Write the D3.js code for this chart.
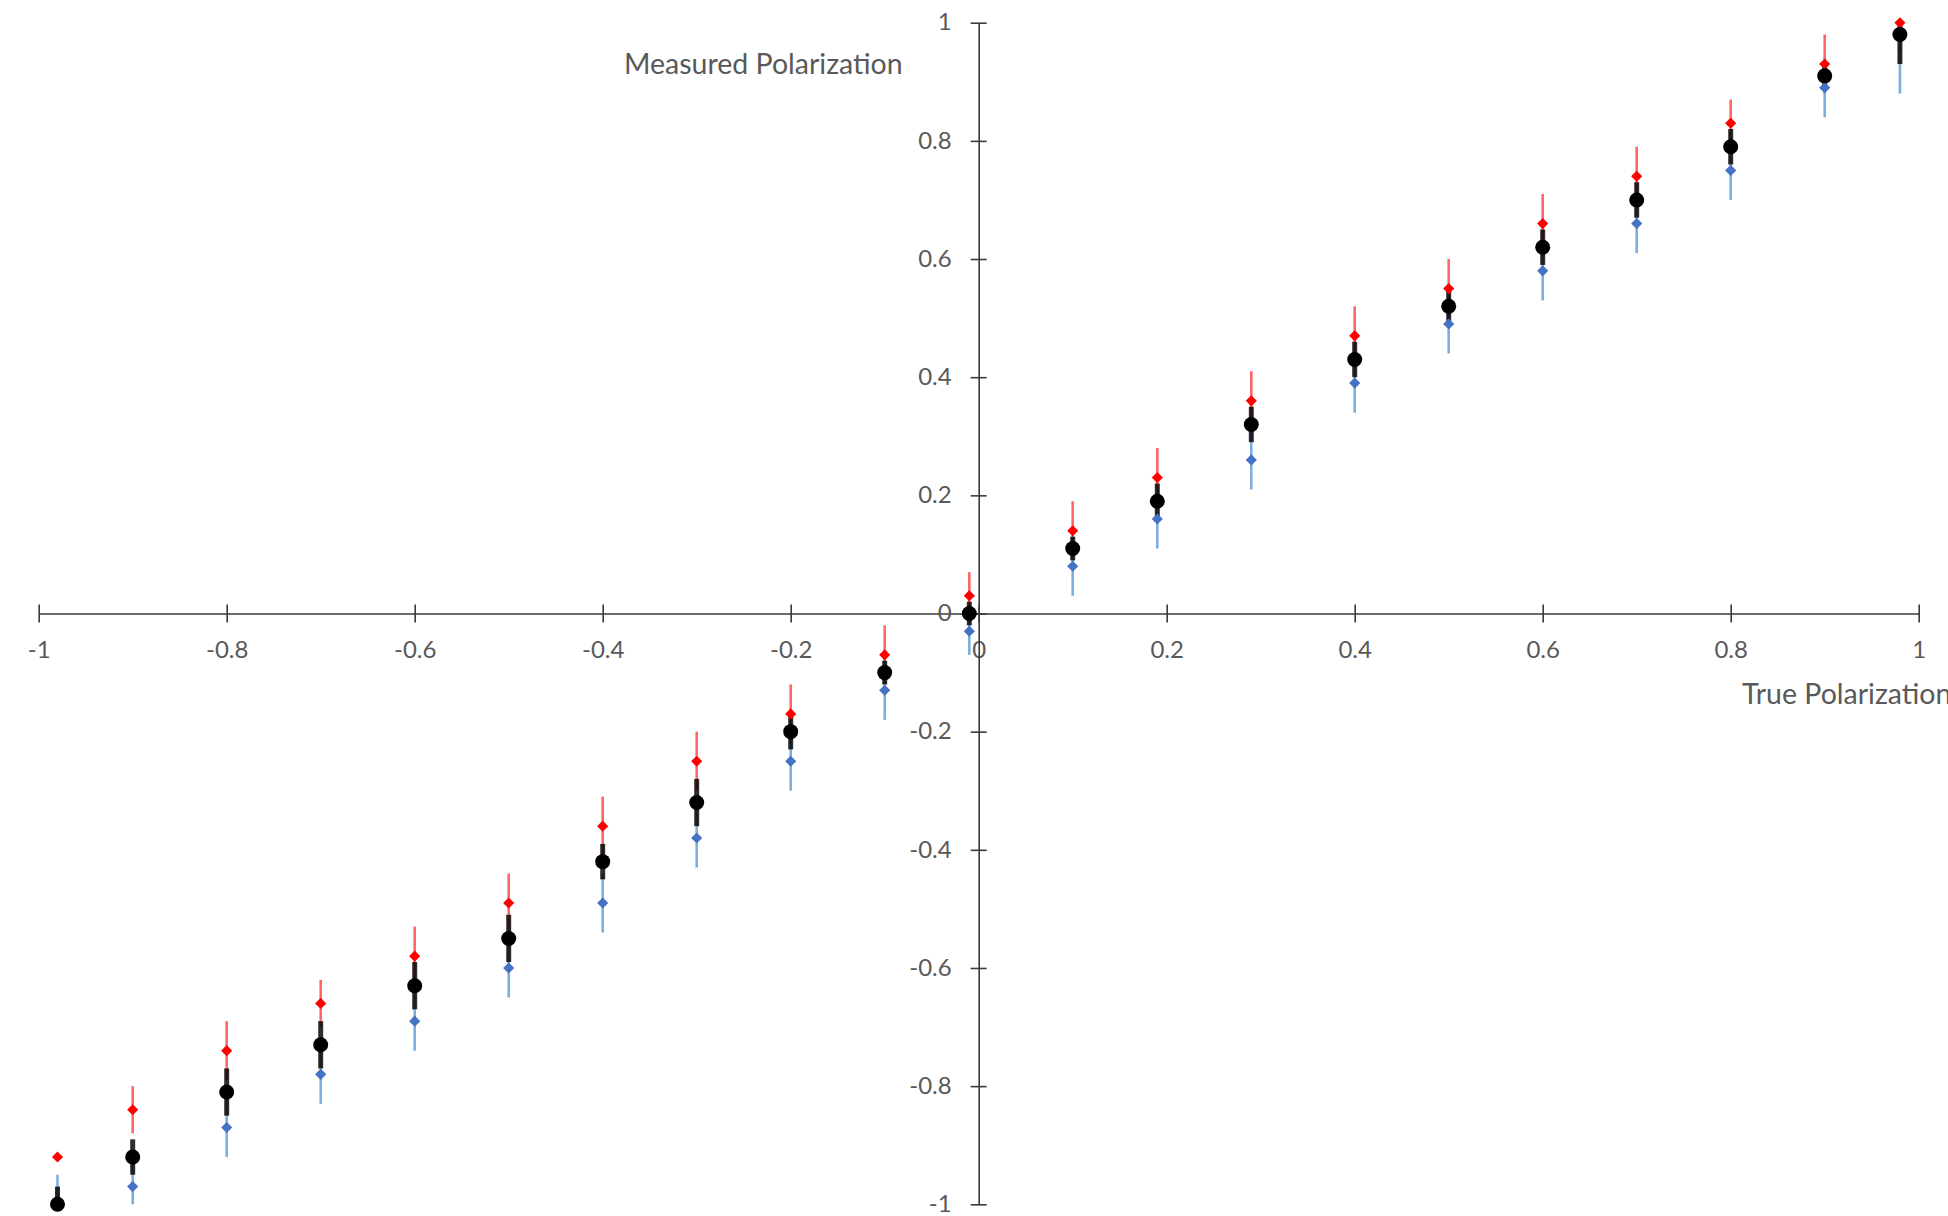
<!DOCTYPE html>
<html>
<head>
<meta charset="utf-8">
<script src="https://cdn.jsdelivr.net/npm/d3@7"></script>
<style>
  html, body { margin: 0; padding: 0; background: #fff; }
  svg { display: block; }
  text { font-family: Lato, "Open Sans", sans-serif; fill: #595959; }
</style>
</head>
<body>
<svg id="chart" width="1948" height="1216"></svg>
<script>
// True polarization (x) for every measurement
const trueP = [-0.98, -0.9, -0.8, -0.7, -0.6, -0.5, -0.4, -0.3, -0.2, -0.1, -0.01,
               0.1, 0.19, 0.29, 0.4, 0.5, 0.6, 0.7, 0.8, 0.9, 0.98];

// Measured polarization (black) and its uncertainty
const measured = [-1.0, -0.92, -0.81, -0.73, -0.63, -0.55, -0.42, -0.32, -0.20, -0.10, 0.0,
                  0.11, 0.19, 0.32, 0.43, 0.52, 0.62, 0.70, 0.79, 0.91, 0.98];
const measuredErr = [0.03, 0.03, 0.04, 0.04, 0.04, 0.04, 0.03, 0.04, 0.03, 0.02, 0.02,
                     0.02, 0.03, 0.03, 0.03, 0.03, 0.03, 0.03, 0.03, 0.02, 0.05];

// Upper estimate (red) and its uncertainty
const upper = [-0.92, -0.84, -0.74, -0.66, -0.58, -0.49, -0.36, -0.25, -0.17, -0.07, 0.03,
               0.14, 0.23, 0.36, 0.47, 0.55, 0.66, 0.74, 0.83, 0.93, 1.0];
const upperErr = [0, 0.04, 0.05, 0.04, 0.05, 0.05, 0.05, 0.05, 0.05, 0.05, 0.04,
                  0.05, 0.05, 0.05, 0.05, 0.05, 0.05, 0.05, 0.04, 0.05, 0.05];

// Lower estimate (blue) and its uncertainty
const lower = [-1.0, -0.97, -0.87, -0.78, -0.69, -0.60, -0.49, -0.38, -0.25, -0.13, -0.03,
               0.08, 0.16, 0.26, 0.39, 0.49, 0.58, 0.66, 0.75, 0.89, 0.98];
const lowerErr = [0.05, 0.05, 0.05, 0.05, 0.05, 0.05, 0.05, 0.05, 0.05, 0.05, 0.04,
                  0.05, 0.05, 0.05, 0.05, 0.05, 0.05, 0.05, 0.05, 0.05, 0.10];

// Axis ticks
const xTicks = [-1, -0.8, -0.6, -0.4, -0.2, 0, 0.2, 0.4, 0.6, 0.8, 1];
const yTicks = [-1, -0.8, -0.6, -0.4, -0.2, 0, 0.2, 0.4, 0.6, 0.8, 1];
const xTitle = "True Polarization";
const yTitle = "Measured Polarization";

const svg = d3.select("#chart");
const x = d3.scaleLinear().domain([-1, 1]).range([38.7, 1918.7]);
const y = d3.scaleLinear().domain([-1, 1]).range([1204.3, 22.7]);
const clampY = v => y(Math.max(-1, Math.min(1, v)));
const fmt = d => String(d);

const axisColor = "#3a3a3a";

// x axis through y = 0
const gx = svg.append("g").attr("transform", `translate(0,${y(0)})`)
  .call(d3.axisBottom(x).tickValues(xTicks).tickFormat(fmt).tickSizeOuter(0));
gx.select(".domain").attr("stroke", axisColor).attr("stroke-width", 1.6);
gx.selectAll(".tick line").attr("y1", -9).attr("y2", 9)
  .attr("stroke", axisColor).attr("stroke-width", 1.6);
gx.selectAll(".tick text").attr("y", 44).attr("dy", null)
  .attr("font-size", 24).attr("fill", "#595959")
  .style("font-family", "Lato, 'Open Sans', sans-serif");

// y axis through x = 0
const gy = svg.append("g").attr("transform", `translate(${x(0)},0)`)
  .call(d3.axisLeft(y).tickValues(yTicks).tickFormat(fmt).tickSizeOuter(0));
gy.select(".domain").attr("stroke", axisColor).attr("stroke-width", 1.6);
gy.selectAll(".tick line").attr("x1", -8).attr("x2", 8)
  .attr("stroke", axisColor).attr("stroke-width", 1.6);
gy.selectAll(".tick text").attr("x", -27).attr("dy", "0.30em")
  .attr("font-size", 24).attr("fill", "#595959")
  .style("font-family", "Lato, 'Open Sans', sans-serif");

// Axis titles
svg.append("text").attr("x", 624).attr("y", 74)
  .attr("font-size", 28.5).text(yTitle);
svg.append("text").attr("x", 1742).attr("y", 704)
  .attr("font-size", 28.5).text(xTitle);

const idx = d3.range(trueP.length);

// Error bars: red and blue lines, then the black measured bars on top
const marks = svg.append("g");
marks.selectAll(".err-upper").data(idx.filter(i => upperErr[i] > 0)).join("line")
  .attr("x1", i => x(trueP[i])).attr("x2", i => x(trueP[i]))
  .attr("y1", i => clampY(upper[i] + upperErr[i]))
  .attr("y2", i => clampY(upper[i] - upperErr[i]))
  .attr("stroke", "#ff0000").attr("stroke-opacity", 0.6).attr("stroke-width", 2.6);

marks.selectAll(".err-lower").data(idx).join("line")
  .attr("x1", i => x(trueP[i])).attr("x2", i => x(trueP[i]))
  .attr("y1", i => clampY(lower[i] + lowerErr[i]))
  .attr("y2", i => clampY(lower[i] - lowerErr[i]))
  .attr("stroke", "#5b9bd5").attr("stroke-opacity", 0.8).attr("stroke-width", 2.6);

marks.selectAll(".err-measured").data(idx).join("line")
  .attr("x1", i => x(trueP[i])).attr("x2", i => x(trueP[i]))
  .attr("y1", i => clampY(measured[i] + measuredErr[i]))
  .attr("y2", i => clampY(measured[i] - measuredErr[i]))
  .attr("stroke", "#000").attr("stroke-opacity", 0.82).attr("stroke-width", 5);

// Diamond markers
const diamond = d3.symbol(d3.symbolSquare, 62);
marks.selectAll(".pt-upper").data(idx).join("path")
  .attr("d", diamond)
  .attr("transform", i => `translate(${x(trueP[i])},${y(upper[i])}) rotate(45)`)
  .attr("fill", "#ff0000");
marks.selectAll(".pt-lower").data(idx).join("path")
  .attr("d", diamond)
  .attr("transform", i => `translate(${x(trueP[i])},${y(lower[i])}) rotate(45)`)
  .attr("fill", "#4472c4");

// Measured points
marks.selectAll(".pt-measured").data(idx).join("circle")
  .attr("cx", i => x(trueP[i])).attr("cy", i => y(measured[i]))
  .attr("r", 7.5).attr("fill", "#000");
</script>
</body>
</html>
